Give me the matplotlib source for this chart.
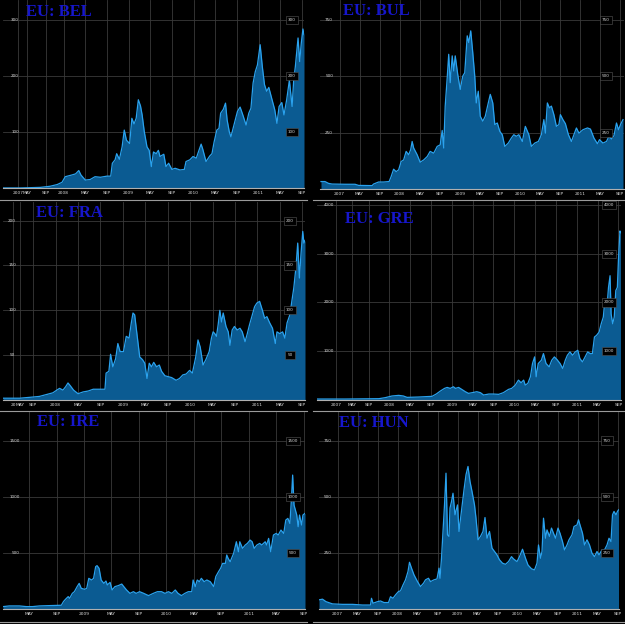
import matplotlib.pyplot as plt
from matplotlib.lines import Line2D

# figure is laid out in pixels (625 x 624)
W, H = 625, 624

# x axis is in months since Jan 2007
month_labels = ['2007', 'MAY', 'SEP', '2008', 'MAY', 'SEP', '2009', 'MAY', 'SEP',
                '2010', 'MAY', 'SEP', '2011', 'MAY', 'SEP']
month_ticks = [0, 4, 8, 12, 16, 20, 24, 28, 32, 36, 40, 44, 48, 52, 56]

# --- EU: BEL ---
bel_months = [0.8, 4, 7.7, 9.5, 10.8, 11.7, 12.3, 13.5, 14.2, 14.8, 15.2, 16, 16.9, 17.8, 18.8,
              20, 20.7, 21, 21.5, 21.8, 22.3, 22.8, 23.2, 23.6, 24.2, 24.6, 25, 25.4, 25.8, 26.2,
              26.5, 26.9, 27.4, 27.8, 28.2, 28.6, 29.1, 29.5, 29.8, 30.5, 30.9, 31.4, 32, 32.6,
              33.5, 34.3, 34.6, 35.3, 35.9, 36.5, 37, 37.4, 37.7, 38.3, 39, 39.4, 39.8, 40.3,
              40.7, 41, 41.5, 41.9, 42.2, 42.6, 42.9, 43.3, 43.7, 44.1, 44.6, 45.1, 45.7, 46.2,
              46.6, 47, 47.4, 47.8, 48.3, 48.7, 49.1, 49.5, 49.9, 50.5, 51, 51.4, 51.8, 52.3,
              52.7, 53.2, 53.7, 54.2, 54.5, 54.8, 55.3, 55.6, 55.9, 56.2, 56.4]
bel_values = [1, 1, 2, 4, 7, 11, 21, 24, 26, 32, 24, 15, 16, 21, 20,
              22, 22, 45, 51, 62, 52, 74, 104, 86, 80, 125, 115, 125, 158, 147,
              131, 101, 74, 68, 39, 65, 62, 68, 57, 61, 39, 45, 34, 36,
              33, 34, 48, 51, 57, 54, 68, 79, 70, 48, 58, 62, 83, 104,
              107, 134, 141, 152, 122, 101, 92, 107, 122, 137, 145, 131, 113, 134,
              143, 188, 208, 220, 256, 217, 185, 173, 180, 158, 140, 116, 146, 153,
              131, 158, 193, 146, 193, 217, 268, 226, 259, 284, 274]
bel_yticks = [100, 200, 300]
bel_xticks = [3.6, 5.3, 8.8] + month_ticks[3:]
bel_xlabels = month_labels

# --- EU: BUL ---
bul_months = [-3.7, -2.9, -2.2, -1.5, 1.1, 3.1, 3.8, 6.5, 6.8, 7.8, 8.8, 9.9, 10.3, 10.8, 11.3,
              11.8, 12.3, 12.8, 13.3, 13.8, 14.2, 14.5, 14.8, 15.5, 16.1, 16.8, 17.5, 18.1, 18.8,
              19.5, 20.1, 20.5, 20.8, 21.1, 21.5, 21.8, 22.1, 22.5, 22.8, 23.1, 23.6, 24.1, 24.6,
              25, 25.5, 25.8, 26.2, 26.6, 27, 27.3, 27.7, 28.1, 28.6, 29.1, 29.7, 30.1, 30.6,
              31, 31.5, 32, 32.5, 33, 33.7, 34.3, 34.8, 35.3, 35.8, 36.5, 37.1, 37.8, 38.3,
              39, 39.7, 40.3, 40.8, 41.1, 41.5, 41.9, 42.3, 42.8, 43.3, 43.8, 44.1, 44.6, 45.1,
              45.7, 46.3, 46.8, 47.3, 47.8, 48.6, 49.5, 50.1, 50.8, 51.5, 51.9, 52.6, 53.3, 53.8,
              54.3, 54.8, 55.3, 55.7, 56.1, 56.6]
bul_values = [33, 33, 25, 22, 21, 21, 16, 15, 22, 31, 31, 33, 55, 88, 77,
              85, 122, 129, 167, 152, 174, 211, 182, 152, 119, 129, 144, 167, 159,
              189, 196, 260, 182, 368, 494, 598, 472, 591, 524, 591, 509, 442, 501,
              516, 680, 650, 702, 606, 501, 382, 434, 323, 301, 323, 382, 420, 382,
              286, 293, 256, 241, 189, 204, 226, 241, 234, 241, 211, 278, 241, 189,
              204, 211, 241, 308, 248, 382, 360, 368, 330, 278, 286, 330, 308, 290,
              241, 211, 241, 271, 248, 263, 271, 266, 226, 201, 219, 204, 211, 234,
              222, 237, 293, 263, 286, 308]
bul_yticks = [250, 500, 750]
bul_xticks = month_ticks
bul_xlabels = month_labels

# --- EU: FRA ---
fra_months = [2.6, 5.6, 7.4, 9.1, 10.3, 11.5, 12.2, 12.7, 13.3, 13.8, 14.2, 14.6, 15.2, 16, 16.9,
              17.8, 18.7, 19.9, 20.8, 21, 21.5, 21.8, 22.2, 22.7, 23.1, 23.5, 24.1, 24.6, 25.1,
              25.5, 25.8, 26.1, 26.5, 27, 27.5, 27.9, 28.3, 28.7, 29.1, 29.5, 30, 30.5, 30.9,
              31.5, 32.1, 32.7, 33.5, 34.1, 34.7, 35.3, 35.9, 36.4, 37, 37.4, 37.8, 38.3, 38.8,
              39.4, 39.8, 40.1, 40.4, 40.7, 41, 41.3, 41.6, 41.9, 42.4, 42.8, 43.1, 43.5, 43.9,
              44.4, 44.9, 45.3, 45.8, 46.2, 46.6, 47.1, 47.5, 47.9, 48.4, 48.9, 49.3, 49.7, 50.2,
              50.7, 51.2, 51.5, 52, 52.5, 52.9, 53.3, 53.8, 54.1, 54.5, 54.9, 55.2, 55.5, 55.8,
              56.1, 56.3, 56.5]
fra_values = [2, 2, 3, 4, 6, 8, 11, 13, 11, 15, 19, 16, 11, 7, 9,
              10, 12, 12, 12, 30, 32, 51, 37, 46, 63, 54, 54, 71, 69,
              86, 97, 95, 74, 48, 45, 41, 24, 41, 37, 42, 37, 39, 32,
              27, 26, 25, 22, 24, 28, 29, 33, 30, 48, 67, 59, 39, 45,
              54, 69, 76, 74, 71, 84, 100, 87, 97, 82, 76, 61, 78, 82,
              78, 80, 76, 65, 74, 84, 95, 104, 108, 110, 100, 91, 93, 86,
              80, 63, 76, 74, 76, 69, 86, 95, 108, 125, 149, 175, 136, 164,
              188, 175, 178]
fra_yticks = [50, 100, 150, 200]
fra_xticks = [4.4, 5.6] + month_ticks[2:]
fra_xlabels = ['20', 'MAY'] + month_labels[2:]

# --- EU: GRE ---
gre_months = [-1.9, 3.6, 10, 11.2, 12.5, 13.8, 14.7, 15.4, 17.6, 18.9, 20.2, 21, 21.8, 22.6, 23.1,
              23.7, 24.3, 24.7, 25.3, 25.9, 26.6, 27.2, 27.9, 28.8, 29.5, 30.1, 31.1, 32, 33,
              33.9, 34.9, 35.5, 36.2, 36.8, 37.3, 37.8, 38.1, 38.6, 39.1, 39.5, 39.9, 40.2, 40.6,
              41.2, 41.6, 42.1, 42.7, 43.2, 43.7, 44.2, 44.8, 45.3, 45.8, 46.2, 46.7, 47.2, 47.7,
              48.2, 48.6, 49.1, 49.6, 50.1, 50.6, 51, 51.4, 51.8, 52.3, 52.7, 53.1, 53.4, 53.8,
              54.1, 54.4, 54.6, 54.9, 55.2, 55.5, 55.8, 56, 56.3, 56.4]
gre_values = [20, 20, 27, 48, 82, 95, 82, 54, 61, 68, 75, 122, 184, 238, 258,
              238, 272, 238, 258, 218, 170, 136, 150, 170, 150, 102, 122, 122, 116,
              150, 218, 238, 306, 408, 354, 408, 306, 340, 476, 748, 884, 476, 748,
              816, 952, 748, 680, 816, 884, 830, 748, 646, 816, 918, 986, 918, 986,
              1020, 850, 782, 884, 986, 952, 952, 1292, 1326, 1394, 1564, 1700, 2040, 1904,
              2312, 2550, 1768, 1564, 1700, 2244, 2312, 2856, 3468, 3434]
gre_yticks = [1000, 2000, 3000, 4000]
gre_xticks = [1.8, 4.8] + month_ticks[2:]
gre_xlabels = month_labels

# --- EU: IRE ---
ire_months = [12.2, 13.1, 14.6, 15.6, 16.5, 17.5, 19, 20.7, 21, 21.3, 21.7, 21.9, 22.3, 22.6, 23,
              23.3, 23.6, 24.1, 24.4, 24.7, 25.1, 25.4, 25.7, 25.9, 26.2, 26.5, 26.9, 27.2, 27.4,
              27.8, 28.1, 28.5, 29, 29.5, 29.8, 30.2, 30.7, 31.2, 31.6, 32.1, 32.7, 33.4, 34.1,
              34.7, 35.3, 35.8, 36.3, 36.8, 37.3, 37.7, 38.2, 38.7, 39.2, 39.7, 39.9, 40.2, 40.5,
              40.8, 41.1, 41.5, 41.9, 42.4, 42.9, 43.2, 43.6, 43.9, 44.2, 44.6, 44.8, 45, 45.3,
              45.5, 45.8, 46.2, 46.5, 46.7, 47.1, 47.5, 47.8, 48.2, 48.5, 48.8, 49.2, 49.6, 49.9,
              50.4, 50.6, 50.9, 51.2, 51.6, 52, 52.3, 52.7, 53.1, 53.4, 53.7, 54, 54.2, 54.4,
              54.6, 55, 55.2, 55.4, 55.7, 55.9, 56.2]
ire_values = [24, 30, 30, 24, 24, 30, 33, 36, 68, 89, 113, 98, 142, 157, 202,
              231, 187, 178, 187, 276, 261, 276, 380, 389, 365, 261, 231, 252, 217,
              240, 172, 202, 211, 225, 202, 172, 142, 157, 142, 157, 142, 122, 142,
              157, 157, 142, 157, 142, 172, 142, 122, 142, 157, 157, 261, 202, 261,
              246, 276, 246, 261, 246, 202, 291, 335, 365, 409, 409, 484, 454, 424,
              454, 498, 602, 513, 602, 543, 573, 587, 617, 602, 543, 573, 587, 573,
              602, 573, 632, 513, 662, 676, 662, 706, 676, 795, 810, 765, 958, 1196,
              929, 840, 736, 840, 751, 840, 855]
ire_yticks = [500, 1000, 1500]
ire_xticks = month_ticks[4:]
ire_xlabels = month_labels[4:]

# --- EU: HUN ---
hun_months = [-3.7, -3, -2.3, -1, 1, 3, 5, 6.6, 6.8, 7.1, 8, 8.6, 9.3, 10.2, 10.6, 11.1, 11.6,
              12.2, 12.6, 13.1, 13.6, 14.1, 14.4, 14.8, 15.3, 16, 16.6, 17.2, 17.6, 18.2, 18.6,
              19.3, 19.9, 20.3, 20.5, 20.8, 21.1, 21.4, 21.7, 22, 22.3, 22.5, 22.8, 23.1, 23.5,
              24, 24.3, 24.7, 25.3, 25.7, 26.1, 26.5, 26.9, 27.4, 27.7, 28.1, 28.6, 29.1, 29.5,
              29.9, 30.4, 30.9, 31.4, 31.9, 32.4, 33, 33.6, 34.2, 34.8, 35.2, 35.9, 36.4, 37,
              37.6, 38.1, 38.8, 39.4, 39.9, 40.2, 40.6, 40.9, 41.2, 41.6, 41.9, 42.4, 42.8, 43.2,
              43.6, 44.1, 44.5, 45, 45.4, 45.9, 46.3, 46.9, 47.3, 47.9, 48.2, 48.5, 49, 49.4,
              49.9, 50.4, 50.9, 51.4, 51.9, 52.3, 52.9, 53.4, 53.9, 54.3, 54.7, 55, 55.3, 55.7,
              56, 56.2]
hun_values = [42, 45, 34, 24, 22, 22, 19, 19, 49, 27, 34, 37, 30, 30, 56, 49, 64,
              79, 82, 108, 131, 168, 209, 183, 153, 123, 101, 116, 131, 138, 123,
              131, 135, 183, 138, 227, 346, 464, 605, 331, 324, 450, 479, 516, 420,
              464, 346, 420, 531, 598, 635, 568, 524, 464, 405, 309, 324, 346, 408,
              316, 346, 272, 257, 242, 220, 205, 200, 212, 234, 224, 212, 234, 267,
              227, 197, 180, 175, 205, 286, 227, 257, 405, 316, 353, 324, 361, 338,
              316, 361, 338, 301, 264, 286, 309, 331, 368, 375, 398, 375, 338, 286,
              309, 286, 249, 234, 257, 242, 264, 264, 286, 316, 301, 420, 435, 420,
              435, 442]
hun_yticks = [250, 500, 750]
hun_xticks = month_ticks
hun_xlabels = month_labels

fill_color = '#0b5b92'
line_color = '#2aa2ee'
grid_color = '#3a3a3a'
label_color = '#d8d8d8'
title_color = '#1616cc'

fig = plt.figure(figsize=(W / 100, H / 100), dpi=100, facecolor='black')


def panel(box, xlim, ylim, months, values, yticks, xticks, xlabels, title, title_xy, left_lab, right_lab):
    left, top, right, bottom = box
    ax = fig.add_axes([left / W, 1 - bottom / H, (right - left) / W, (bottom - top) / H])
    ax.set_facecolor('black')
    ax.fill_between(months, values, 0, color=fill_color, lw=0)
    ax.plot(months, values, color=line_color, lw=0.9)
    ax.set_xlim(*xlim)
    ax.set_ylim(*ylim)
    for t in xticks:
        ax.axvline(t, color=grid_color, lw=0.6, zorder=0)
    for t in yticks:
        ax.axhline(t, color=grid_color, lw=0.6, zorder=0)
        ax.text(left_lab, t, str(t), transform=ax.get_yaxis_transform(), fontsize=3,
                color=label_color, ha='center', va='center')
        ax.text(right_lab, t, str(t), transform=ax.get_yaxis_transform(), fontsize=3,
                color=label_color, ha='center', va='center',
                bbox=dict(boxstyle='square,pad=0.5', fc='black', ec='#555555', lw=0.4))
    ax.set_xticks(xticks)
    ax.set_xticklabels(xlabels)
    ax.set_yticks([])
    ax.tick_params(axis='x', length=0, pad=2, labelsize=3.2, labelcolor=label_color)
    for s in ['top', 'left', 'right']:
        ax.spines[s].set_visible(False)
    ax.spines['bottom'].set_color('#b0b0b0')
    ax.spines['bottom'].set_linewidth(0.8)
    fig.text(title_xy[0] / W, 1 - title_xy[1] / H, title, family='Liberation Serif',
             weight='bold', fontsize=12, color=title_color, ha='left', va='baseline')
    return ax


# boxes are (left, top, right, bottom) in pixels, bottom = zero line
panel((3, 0, 304, 188.5), (0.8, 56.4), (0, 335.6), bel_months, bel_values, bel_yticks,
      bel_xticks, bel_xlabels, 'EU: BEL', (26, 15.5), 0.04, 0.96)
panel((320, 0, 624, 189), (-3.9, 56.8), (0, 839), bul_months, bul_values, bul_yticks,
      bul_xticks, bul_xlabels, 'EU: BUL', (343, 15), 0.03, 0.94)
panel((3, 202, 305, 400), (2.6, 56.5), (0, 220.8), fra_months, fra_values, fra_yticks,
      fra_xticks, fra_xlabels, 'EU: FRA', (36, 217.3), 0.03, 0.95)
panel((317, 201, 621, 400), (-1.9, 56.5), (0, 4082), gre_months, gre_values, gre_yticks,
      gre_xticks, gre_xlabels, 'EU: GRE', (345, 222.7), 0.04, 0.96)
panel((3, 412, 305, 609.3), (12.2, 56.2), (0, 1758), ire_months, ire_values, ire_yticks,
      ire_xticks, ire_xlabels, 'EU: IRE', (37, 425.7), 0.04, 0.96)
panel((319, 412, 619, 609.3), (-3.7, 56.3), (0, 877), hun_months, hun_values, hun_yticks,
      hun_xticks, hun_xlabels, 'EU: HUN', (339, 426.7), 0.03, 0.96)

# grey separators between the rows
for y in [199.5, 410.5, 621.5]:
    fig.add_artist(Line2D([0, 307 / W], [1 - y / H, 1 - y / H], color='#9a9a9a', lw=0.8))
    fig.add_artist(Line2D([313 / W, 1], [1 - y / H, 1 - y / H], color='#9a9a9a', lw=0.8))

fig.savefig('out.png', dpi=100, facecolor='black')
